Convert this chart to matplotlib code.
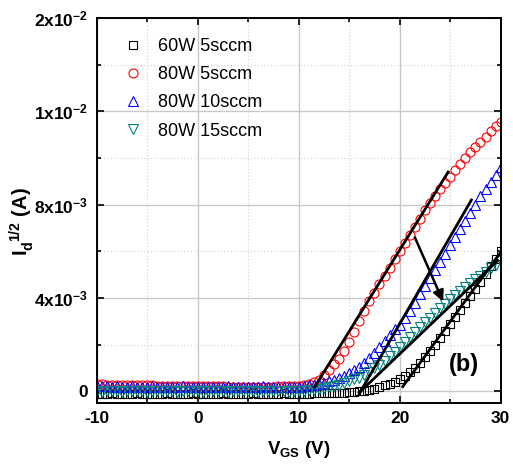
import matplotlib
matplotlib.use("Agg")
import matplotlib.pyplot as plt
import numpy as np
from matplotlib.ticker import MultipleLocator, FixedLocator, FixedFormatter

plt.rcParams["font.family"] = ["Liberation Sans", "DejaVu Sans"]
plt.rcParams["mathtext.fontset"] = "custom"
plt.rcParams["mathtext.rm"] = "Liberation Sans:bold"
plt.rcParams["mathtext.it"] = "Liberation Sans:bold:italic"
plt.rcParams["mathtext.bf"] = "Liberation Sans:bold"
plt.rcParams["axes.unicode_minus"] = False

# gate voltage, 0.5 V steps from -10 to 30 V
vgs = np.arange(-10, 30.01, 0.5)

# sqrt(Id) in units of 1e-3 A^1/2
p60_5 = [-0.10, -0.11, -0.10, -0.09, -0.10, -0.11, -0.10, -0.10, -0.09, -0.10,
         -0.10, -0.11, -0.10, -0.10, -0.09, -0.10, -0.11, -0.10, -0.10, -0.09,
         -0.10, -0.10, -0.11, -0.10, -0.10, -0.09, -0.10, -0.10, -0.11, -0.10,
         -0.10, -0.09, -0.10, -0.10, -0.11, -0.10, -0.10, -0.09, -0.10, -0.10,
         -0.10, -0.10, -0.10, -0.09, -0.09, -0.09, -0.08, -0.08, -0.08, -0.06,
         -0.04, -0.02, 0.00, 0.03, 0.07, 0.12, 0.18, 0.25, 0.33, 0.42,
         0.53, 0.66, 0.82, 1.00, 1.20, 1.45, 1.72, 2.00, 2.30, 2.60,
         2.90, 3.20, 3.50, 3.80, 4.10, 4.40, 4.70, 5.02, 5.35, 5.68,
         6.00]
p80_5 = [0.32, 0.30, 0.29, 0.28, 0.28, 0.27, 0.27, 0.26, 0.26, 0.25,
         0.25, 0.25, 0.24, 0.24, 0.24, 0.23, 0.23, 0.23, 0.22, 0.22,
         0.22, 0.22, 0.21, 0.21, 0.21, 0.21, 0.20, 0.20, 0.20, 0.20,
         0.20, 0.20, 0.20, 0.20, 0.20, 0.20, 0.21, 0.21, 0.22, 0.23,
         0.24, 0.26, 0.30, 0.38, 0.50, 0.68, 0.90, 1.15, 1.38, 1.72,
         2.10, 2.55, 3.00, 3.45, 3.85, 4.20, 4.60, 4.95, 5.30, 5.65,
         6.00, 6.35, 6.70, 7.05, 7.40, 7.75, 8.05, 8.35, 8.65, 8.92,
         9.20, 9.48, 9.74, 10.00, 10.24, 10.48, 10.70, 10.92, 11.14, 11.35,
         11.55]
p80_10 = [0.22, 0.21, 0.21, 0.20, 0.21, 0.20, 0.20, 0.21, 0.20, 0.20,
          0.20, 0.21, 0.20, 0.20, 0.19, 0.20, 0.20, 0.21, 0.20, 0.20,
          0.20, 0.20, 0.19, 0.20, 0.20, 0.20, 0.21, 0.20, 0.20, 0.19,
          0.20, 0.20, 0.20, 0.21, 0.20, 0.20, 0.20, 0.19, 0.20, 0.20,
          0.20, 0.22, 0.25, 0.28, 0.32, 0.37, 0.43, 0.50, 0.58, 0.67,
          0.77, 0.90, 1.05, 1.22, 1.42, 1.65, 1.90, 2.15, 2.42, 2.65,
          2.85, 3.15, 3.45, 3.80, 4.15, 4.50, 4.85, 5.20, 5.55, 5.90,
          6.25, 6.60, 6.95, 7.30, 7.65, 8.00, 8.35, 8.65, 8.95, 9.28,
          9.60]
p80_15 = [0.00, -0.01, 0.00, 0.01, 0.00, -0.01, 0.00, 0.00, 0.01, 0.00,
          -0.01, 0.00, 0.00, 0.01, 0.00, 0.00, -0.01, 0.00, 0.01, 0.00,
          0.00, -0.01, 0.00, 0.00, 0.01, 0.00, -0.01, 0.00, 0.00, 0.01,
          0.00, 0.00, -0.01, 0.00, 0.00, 0.01, 0.00, 0.00, -0.01, 0.00,
          0.00, 0.02, 0.04, 0.07, 0.10, 0.14, 0.18, 0.23, 0.29, 0.36,
          0.44, 0.51, 0.58, 0.70, 0.83, 0.98, 1.14, 1.32, 1.50, 1.70,
          1.92, 2.12, 2.33, 2.54, 2.75, 2.96, 3.16, 3.36, 3.56, 3.75,
          3.94, 4.12, 4.30, 4.47, 4.64, 4.80, 4.96, 5.12, 5.28, 5.43,
          5.58]

labels = ["60W 5sccm", "80W 5sccm", "80W 10sccm", "80W 15sccm"]
colors = ["black", "red", "blue", "#008080"]
markers = ["s", "o", "^", "v"]
msizes = [5.5, 6.5, 6.5, 6.5]

# linear fits (start/end points, same units)
fit_x = [[20.3, 29.9], [11.6, 24.8], [16.0, 27.1], [16.0, 29.7]]
fit_y = [[0.20, 5.90], [0.20, 9.40], [-0.10, 8.20], [-0.05, 5.60]]

arrow_from = (21.5, 6.6)
arrow_to = (24.3, 3.85)

fig = plt.figure(figsize=(5.13, 4.72), dpi=100)
ax = fig.add_axes([0.1885, 0.1462, 0.7875, 0.8157])

ax.set_axisbelow(True)
ax.grid(True, which="major", color="#c8c8c8", lw=1.0, ls="-")
ax.grid(True, which="minor", color="#d0d0d0", lw=0.8, ls=(0, (1, 2)))

series = [p60_5, p80_5, p80_10, p80_15]
for s, lab, c, m, ms in zip(series, labels, colors, markers, msizes):
    ax.plot(vgs, np.array(s) * 1e-3, ls="none", marker=m, ms=ms,
            mfc="none", mec=c, mew=0.8, label=lab)

for fx, fy in zip(fit_x, fit_y):
    ax.plot(fx, np.array(fy) * 1e-3, color="black", lw=2.0)

ax.annotate("", xy=(arrow_to[0], arrow_to[1] * 1e-3),
            xytext=(arrow_from[0], arrow_from[1] * 1e-3),
            arrowprops=dict(arrowstyle="-|>", color="black", lw=1.8,
                            mutation_scale=16, shrinkA=0, shrinkB=0))

ax.text(26.4, 1.15e-3, "(b)", fontsize=17, fontweight="bold",
        ha="center", va="center")

ax.set_xlim(-10, 30)
ax.set_ylim(-0.0005, 0.016)
ax.xaxis.set_major_locator(MultipleLocator(10))
ax.xaxis.set_minor_locator(MultipleLocator(5))
ax.yaxis.set_major_locator(FixedLocator([0, 0.004, 0.008, 0.012, 0.016]))
ax.yaxis.set_major_formatter(FixedFormatter(
    ["0", r"4x10$^{-3}$", r"8x10$^{-3}$", r"1x10$^{-2}$", r"2x10$^{-2}$"]))
ax.yaxis.set_minor_locator(MultipleLocator(0.002))

ax.tick_params(which="both", direction="in", top=True, right=True, width=1.2)
ax.tick_params(which="major", length=5, labelsize=12.5, pad=6)
ax.tick_params(which="minor", length=3)
for lab in ax.get_xticklabels() + ax.get_yticklabels():
    lab.set_fontweight("bold")
for sp in ax.spines.values():
    sp.set_linewidth(1.4)

ax.set_xlabel(r"V$_{\mathbf{GS}}$ (V)", fontsize=13.5, fontweight="bold", labelpad=9)
ax.set_ylabel(r"I$_{\mathbf{d}}^{\ \ 1/2}$ (A)", fontsize=14.5, fontweight="bold")
ax.yaxis.set_label_coords(-0.15, 0.47)

ax.legend(loc="upper left", bbox_to_anchor=(0.022, 0.99), frameon=False,
          fontsize=13, handlelength=1.2, handletextpad=0.8, labelspacing=0.62,
          borderaxespad=0.5)

fig.savefig("out.png", dpi=100)
